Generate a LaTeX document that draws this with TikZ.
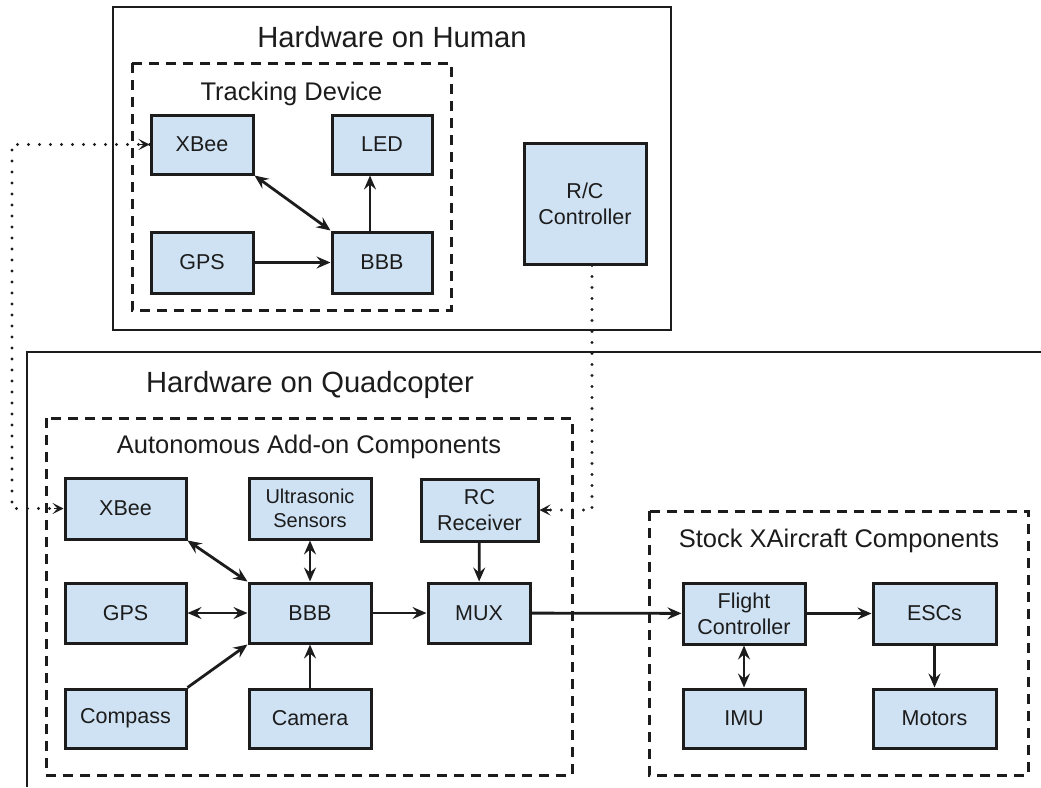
\documentclass[tikz,border=0pt]{standalone}
\usepackage{fontspec}
\setmainfont{Liberation Sans}
\usetikzlibrary{arrows.meta}

\definecolor{boxfill}{HTML}{CFE2F3}
\definecolor{ink}{HTML}{1C1C1C}

\tikzset{
  hd/.tip={Stealth[length=14pt, width=12pt, inset=5pt]},
  rhd/.tip={Stealth[length=11pt, width=11pt, inset=5pt, line width=1.6pt, open]},
  block/.style={draw=ink, line width=3pt, fill=boxfill, inner sep=0pt,
    align=center, text=ink, font=\fontsize{21.5}{26}\selectfont},
  bigtitle/.style={anchor=base, text=ink, inner sep=0pt, font=\fontsize{29.2}{34}\selectfont},
  subtitle/.style={anchor=base, text=ink, inner sep=0pt, font=\fontsize{25.5}{30}\selectfont},
  frame/.style={draw=ink, line width=2.8pt},
  group/.style={draw=ink, line width=3pt, dash pattern=on 10pt off 7pt},
  link/.style={draw=ink, line width=2.8pt},
  radio/.style={draw=ink, line width=3.4pt, line cap=round, dash pattern=on 0pt off 11pt}
}

\begin{document}
\begin{tikzpicture}[x=1pt, y=-1pt]
  \useasboundingbox[fill=white] (0,0) rectangle (1041,787);

  % ---------- Hardware on Human ----------
  \draw[frame] (113,7) rectangle (671,330);
  \node[bigtitle] (humantitle) at (392,47) {Hardware on Human};
  \draw[group] (132,63) rectangle (451,310);
  \node[subtitle] (tracktitle) at (291.5,100) {Tracking Device};

  \node[block, minimum width=102pt, minimum height=59pt] (hx)   at (202,144.5) {XBee};
  \node[block, minimum width=100pt, minimum height=59pt] (led)  at (382,144.5) {LED};
  \node[block, minimum width=102pt, minimum height=61pt] (hgps) at (202,262.5) {GPS};
  \node[block, minimum width=100pt, minimum height=61pt] (hbbb) at (382,262.5) {BBB};
  \node[block, minimum width=122pt, minimum height=121pt] (rc)  at (585,203.5) {R/C\\Controller};

  % ---------- Hardware on Quadcopter ----------
  \draw[frame] (1041,352) -- (27,352) -- (27,787);
  \node[bigtitle] (quadtitle) at (310,392) {Hardware on Quadcopter};

  \draw[group] (46,418) rectangle (572,775);
  \node[subtitle] (autotitle) at (309,453) {Autonomous Add-on Components};

  \draw[group] (649,511) rectangle (1028,775);
  \node[subtitle] (stocktitle) at (839,547) {Stock XAircraft Components};

  \node[block, minimum width=121pt, minimum height=61pt] (qx)   at (125.5,508.5) {XBee};
  \node[block, minimum width=122pt, minimum height=61pt,
        font=\fontsize{20}{24}\selectfont]               (us)   at (310,508.5) {Ultrasonic\\Sensors};
  \node[block, minimum width=117pt, minimum height=62pt] (rcr)  at (479.5,510) {RC\\Receiver};
  \node[block, minimum width=121pt, minimum height=60pt] (qgps) at (125.5,613) {GPS};
  \node[block, minimum width=122pt, minimum height=60pt] (qbbb) at (310,613) {BBB};
  \node[block, minimum width=102pt, minimum height=60pt] (mux)  at (479,613) {MUX};
  \node[block, minimum width=121pt, minimum height=59pt] (comp) at (125.5,718.5) {Compass};
  \node[block, minimum width=122pt, minimum height=59pt] (cam)  at (310,718.5) {Camera};

  \node[block, minimum width=122pt, minimum height=61pt] (fc)   at (744,613.5) {Flight\\Controller};
  \node[block, minimum width=123pt, minimum height=61pt] (esc)  at (934.5,613.5) {ESCs};
  \node[block, minimum width=122pt, minimum height=59pt] (imu)  at (744,718.5) {IMU};
  \node[block, minimum width=123pt, minimum height=59pt] (mot)  at (934.5,718.5) {Motors};

  % ---------- wired links ----------
  \draw[link, hd-hd] (hx.south east) -- (hbbb.north west);
  \draw[link, -hd] (hgps) -- (hbbb);
  \draw[link, -hd] ([xshift=-12pt]hbbb.north) -- ([xshift=-12pt]led.south);

  \draw[link, hd-hd] (qx.south east) -- (qbbb.north west);
  \draw[link, hd-hd] (us) -- (qbbb);
  \draw[link, hd-hd] (qgps) -- (qbbb);
  \draw[link, -hd] (comp.north east) -- (qbbb.south west);
  \draw[link, -hd] (cam) -- (qbbb);
  \draw[link, -hd] (qbbb) -- (mux);
  \draw[link, -hd] (rcr) -- (mux);
  \draw[link, -hd] (mux) -- (fc);
  \draw[link, -hd] (fc) -- (esc);
  \draw[link, hd-hd] (fc) -- (imu);
  \draw[link, -hd] (esc) -- (mot);

  % ---------- radio links ----------
  \coordinate (leftlane) at (12,0);
  \draw[radio] (hx.west) -- (leftlane |- hx.west) -- (leftlane |- qx.west) -- (qx.west);
  \draw[ink, line width=1.6pt, rhd-] (hx.west) -- ++(-10pt,0);
  \draw[ink, line width=1.6pt, rhd-] (qx.west) -- ++(-10pt,0);

  \coordinate (rcdrop) at ([xshift=7pt]rc.south);
  \draw[radio] (rcdrop) -- (rcdrop |- rcr.east) -- (rcr.east);
  \draw[ink, line width=1.6pt, rhd-] (rcr.east) -- ++(10pt,0);
\end{tikzpicture}
\end{document}
